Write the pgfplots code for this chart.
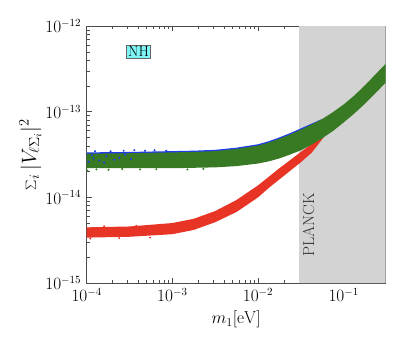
\documentclass[border=0pt]{standalone}
\usepackage{pgfplots}
\pgfplotsset{compat=1.18}
\definecolor{bandgreen}{RGB}{56,122,36}
\definecolor{bandred}{RGB}{232,52,36}
\definecolor{bandblue}{RGB}{30,60,235}
\definecolor{planckgray}{RGB}{211,211,211}
\definecolor{nhcyan}{RGB}{125,245,245}
\begin{document}
\begin{tikzpicture}
\begin{axis}[
  scale only axis,
  width=299pt, height=257pt,
  xmode=log, ymode=log,
  xmin=1e-4, xmax=0.309,
  ymin=1e-15, ymax=1e-12,
  xtick={1e-4,1e-3,1e-2,1e-1},
  ytick={1e-15,1e-14,1e-13,1e-12},
  tick align=inside,
  major tick length=5pt, minor tick length=3pt,
  every tick/.style={color=black!70, line width=0.4pt},
  axis line style={color=black!70, line width=0.6pt},
  tick label style={font=\fontsize{16}{18}\selectfont},
  xticklabel style={yshift=-2pt},
  yticklabel style={xshift=-2pt},
  xlabel={$m_1[\mathrm{eV}]$},
  xlabel style={font=\fontsize{17.5}{20}\selectfont, yshift=-2pt},
  ylabel={$\sum_i |V_{\ell\Sigma_i}|^2$},
  ylabel style={font=\fontsize{21}{24}\selectfont, yshift=-3pt},
  clip=true,
]
% PLANCK excluded region
\addplot[fill=planckgray, draw=none] coordinates {(0.0302,1e-15) (0.5,1e-15) (0.5,1e-12) (0.0302,1e-12)} \closedcycle;
% blue band (upper edge of scan)
\addplot[fill=bandblue, draw=none] coordinates {
 (1e-4,3.349e-14) (3.162e-4,3.388e-14) (1e-3,3.467e-14) (1.778e-3,3.507e-14) (3.162e-3,3.588e-14)
 (5.623e-3,3.802e-14) (0.01,4.168e-14) (0.01334,4.518e-14) (0.01778,5.011e-14) (0.02371,5.623e-14)
 (0.03162,6.382e-14) (0.04217,7.25e-14) (0.05623,8.222e-14)
 (0.05623,7.646e-14) (0.04217,6.583e-14) (0.03162,5.734e-14) (0.02371,5.053e-14) (0.01778,4.503e-14)
 (0.01334,4.059e-14) (0.01,3.745e-14) (5.623e-3,3.416e-14) (3.162e-3,3.224e-14) (1.778e-3,3.151e-14)
 (1e-3,3.116e-14) (3.162e-4,3.044e-14) (1e-4,3.009e-14)
} -- cycle;
% red band
\addplot[fill=bandred, draw=none] coordinates {
 (1e-4,4.467e-15) (3.162e-4,4.571e-15) (1e-3,5.012e-15) (1.778e-3,5.623e-15) (3.162e-3,6.918e-15)
 (5.623e-3,9.333e-15) (0.01,1.380e-14) (0.01334,1.738e-14) (0.01778,2.188e-14) (0.02371,2.723e-14)
 (0.03162,3.388e-14) (0.04217,4.169e-14) (0.05623,5.129e-14) (0.0603,5.4e-14)
 (0.05623,4.786e-14) (0.04217,3.311e-14) (0.03162,2.570e-14) (0.02371,2.042e-14)
 (0.01778,1.622e-14) (0.01334,1.288e-14) (0.01,1.0e-14) (5.623e-3,6.761e-15) (3.162e-3,5.129e-15)
 (1.778e-3,4.169e-15) (1e-3,3.715e-15) (3.162e-4,3.467e-15) (1e-4,3.388e-15)
} -- cycle;
% green band
\addplot[fill=bandgreen, draw=none] coordinates {
 (1e-4,3.236e-14) (3.162e-4,3.273e-14) (1e-3,3.350e-14) (1.778e-3,3.388e-14) (3.162e-3,3.467e-14)
 (5.623e-3,3.673e-14) (0.01,4.027e-14) (0.01334,4.365e-14) (0.01778,4.842e-14) (0.02371,5.433e-14)
 (0.03162,6.166e-14) (0.04217,7.079e-14) (0.05623,8.222e-14) (0.07499,9.886e-14) (0.1,1.216e-13)
 (0.1334,1.549e-13) (0.1778,2.042e-13) (0.2371,2.754e-13) (0.3162,3.715e-13)
 (0.3162,2.239e-13) (0.2371,1.660e-13) (0.1778,1.245e-13) (0.1334,9.550e-14) (0.1,7.499e-14)
 (0.07499,5.957e-14) (0.05623,4.898e-14) (0.04217,4.121e-14) (0.03162,3.548e-14) (0.02371,3.162e-14)
 (0.01778,2.851e-14) (0.01334,2.630e-14) (0.01,2.483e-14) (5.623e-3,2.317e-14) (3.162e-3,2.239e-14)
 (1.778e-3,2.213e-14) (1e-3,2.188e-14) (3.162e-4,2.188e-14) (1e-4,2.188e-14)
} -- cycle;
% scattered points at the fuzzy edges
\addplot[only marks, mark=*, mark size=0.8pt, color=bandgreen] coordinates {
 (1.02e-4,2.05e-14) (1.3e-4,2.12e-14) (1.8e-4,2.1e-14) (2.6e-4,2.14e-14) (4.2e-4,2.12e-14)
 (6.5e-4,2.13e-14) (1.5e-3,2.12e-14) (2.3e-3,2.15e-14)
};
\addplot[only marks, mark=*, mark size=0.7pt, color=bandred] coordinates {
 (1.1e-4,3.3e-15) (1.6e-4,4.6e-15) (2.4e-4,3.35e-15) (3.8e-4,4.65e-15) (5.5e-4,3.4e-15) (7.5e-4,4.8e-15)
};
\addplot[only marks, mark=*, mark size=0.8pt, color=bandblue] coordinates {
 (1.05e-4,2.6e-14) (1.15e-4,3.1e-14) (1.2e-4,2.85e-14) (1.4e-4,2.7e-14) (1.6e-4,2.55e-14)
 (1.7e-4,3.0e-14) (2.1e-4,2.75e-14) (2.4e-4,2.9e-14) (2.8e-4,3.15e-14) (3.3e-4,2.8e-14)
 (1.25e-4,3.45e-14) (1.9e-4,3.45e-14) (2.7e-4,3.5e-14) (3.6e-4,3.55e-14) (4.8e-4,3.5e-14)
 (6.2e-4,3.55e-14) (8.5e-4,3.5e-14)
};
\node[rotate=90, font=\fontsize{16}{18}\selectfont, text=black!80] at (axis cs:0.039,4.8e-15) {PLANCK};
\node[fill=nhcyan, draw=black!60, line width=0.4pt, inner sep=1.5pt, font=\fontsize{15}{17}\selectfont] at (axis cs:4.03e-4,5.0e-13) {NH};
\end{axis}
\path[use as bounding box] (-86.7pt,-57pt) rectangle (320.3pt,283pt);
\end{tikzpicture}
\end{document}
